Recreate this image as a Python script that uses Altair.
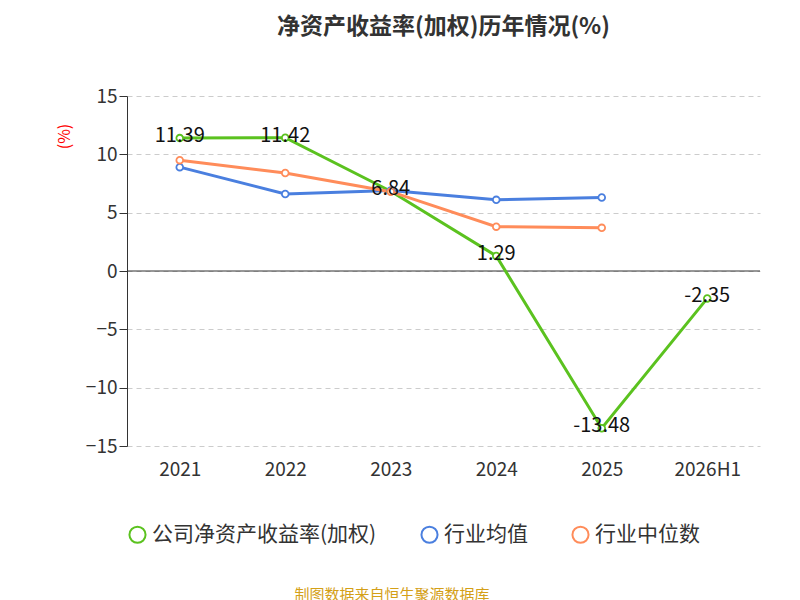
import altair as alt
import pandas as pd

years = ["2021", "2022", "2023", "2024", "2025", "2026H1"]
company = [11.39, 11.42, 6.84, 1.29, -13.48, -2.35]
mean_vals = [8.9, 6.6, 6.9, 6.1, 6.3]
median_vals = [9.5, 8.4, 6.8, 3.8, 3.7]
series = ["公司净资产收益率(加权)", "行业均值", "行业中位数"]
colors = ["#5bc21f", "#4a7fdf", "#ff8c5a"]

rows = []
for y, v in zip(years, company):
    rows.append({"year": y, "value": v, "s": series[0]})
for y, v in zip(years, mean_vals):
    rows.append({"year": y, "value": v, "s": series[1]})
for y, v in zip(years, median_vals):
    rows.append({"year": y, "value": v, "s": series[2]})
df = pd.DataFrame(rows)
dfc = df[df.s == series[0]].copy()
dfc["label"] = dfc["value"].map(lambda v: f"{v:.2f}")

F = "Noto Sans CJK SC"
x = alt.X("year:N", sort=years, title=None,
          scale=alt.Scale(paddingInner=0, paddingOuter=0),
          axis=alt.Axis(labelFontSize=19, labelColor="#333", domain=False, ticks=False,
                        labelPadding=14, grid=False, labelFont=F, labelAngle=0))
y = alt.Y("value:Q", scale=alt.Scale(domain=[-15, 15], nice=False),
          axis=alt.Axis(values=[-15, -10, -5, 0, 5, 10, 15], labelFontSize=19, labelColor="#333",
                        domainColor="#333", tickColor="#333", tickSize=8, labelFont=F,
                        gridDash=[5, 4], gridColor="#ccc", title="(%)", titleColor="red",
                        titleFontSize=16, titleFontWeight="normal", titleX=-55, titleY=40,
                        titleFont=F))
cscale = alt.Scale(domain=series, range=colors)
color = alt.Color("s:N", scale=cscale, sort=series,
                  legend=alt.Legend(orient="bottom", title=None, labelFontSize=21, labelFont=F,
                                    labelColor="#333", symbolType="circle", symbolSize=260,
                                    symbolStrokeWidth=2, symbolFillColor="white", labelLimit=0,
                                    columnPadding=40, offset=45))
base = alt.Chart(df)
lines = base.mark_line(strokeWidth=3).encode(x=x, y=y, color=color)
pts = base.mark_point(filled=False, fill="white", fillOpacity=1, size=45, strokeWidth=1.8,
                      opacity=1).encode(
    x=x, y=y, stroke=alt.Stroke("s:N", scale=cscale, legend=None))
zero = alt.Chart(pd.DataFrame({"z": [0]})).mark_rule(color="#333", strokeWidth=1.2).encode(y="z:Q")
labels = alt.Chart(dfc).mark_text(fontSize=20, font=F, dy=-2, color="#111").encode(
    x=x, y=y, text="label:N")
src = alt.Chart(pd.DataFrame({"t": ["制图数据来自恒生聚源数据库"]})).mark_text(
    fontSize=15, font=F, color="#d4a017").encode(x=alt.value(265), y=alt.value(499), text="t:N")

chart = alt.layer(zero, lines, pts, labels, src).properties(
    width=633, height=350,
    title=alt.Title("净资产收益率(加权)历年情况(%)", fontSize=23, font=F, fontWeight="bold",
                    color="#333", offset=48),
    padding={"left": 48, "top": 8, "right": 20, "bottom": 10}
).configure_view(stroke=None)

chart.save("out.html", embed_options={"renderer": "svg", "actions": False})
